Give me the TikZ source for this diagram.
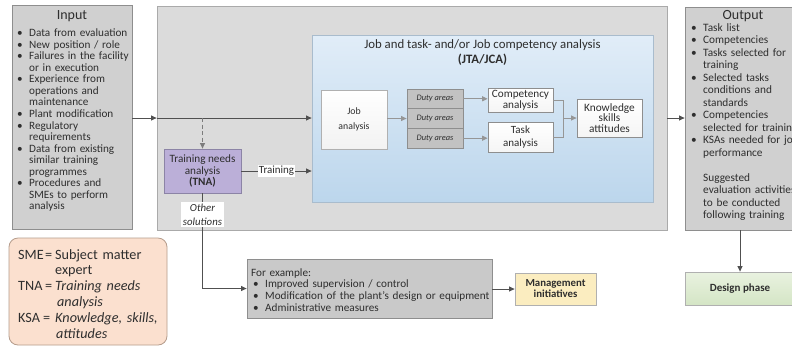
\documentclass[tikz,border=0pt]{standalone}
\usepackage{fontspec}
\setmainfont{Carlito}
\usetikzlibrary{arrows.meta,shadings}

\definecolor{txt}{HTML}{2E2E2E}
\definecolor{linec}{HTML}{505050}
\definecolor{boxgray}{HTML}{D0D0D0}
\definecolor{boxedge}{HTML}{8E8E8E}
\definecolor{maingray}{HTML}{DBDBDB}
\definecolor{bluetop}{HTML}{E1EDF8}
\definecolor{bluebot}{HTML}{BCD6EC}
\definecolor{blueedge}{HTML}{A9BCCD}
\definecolor{tnafill}{HTML}{BBAFD8}
\definecolor{tnaedge}{HTML}{8C84A6}
\definecolor{dutyfill}{HTML}{C2C2C2}
\definecolor{exfill}{HTML}{C9C9C9}
\definecolor{mgmtfill}{HTML}{FBEDC0}
\definecolor{legfill}{HTML}{FBE0CF}
\definecolor{legedge}{HTML}{B59C8C}
\definecolor{greentop}{HTML}{E9F2E0}
\definecolor{greenbot}{HTML}{D4E5C5}

% bulleted line, its continuation line, and a plain line
\newcommand{\bitem}[1]{\noindent\makebox[14pt][l]{\hspace{2pt}\textbullet}#1\par}
\newcommand{\bcont}[1]{\noindent\hspace*{14pt}#1\par}
\newcommand{\pline}[1]{\noindent #1\par}

\tikzset{
  box/.style={draw=boxedge, line width=0.8pt, inner sep=0pt, text=txt, align=center},
  conn/.style={draw=linec, line width=0.9pt, -{Triangle[length=5.5pt,width=5pt]}},
  plain/.style={draw=linec, line width=0.9pt},
  listtext/.style={inner sep=0pt, text=txt, align=left, text width=250pt, anchor=base west},
}

\begin{document}
\begin{tikzpicture}[x=1pt,y=-1pt]
\useasboundingbox (0,0) rectangle (792,349);
\fill[white] (0,0) rectangle (792,349);

% Input panel
\node[box, fill=boxgray, minimum width=120pt, minimum height=224pt] (input) at (72,117) {};
\node[text=txt, font=\fontsize{14}{16}\selectfont] (intitle) at (72,16.5) {Input};
\node[listtext, font=\fontsize{11.2}{11.53}\selectfont] (inlist) at (15,36.8) {%
\bitem{Data from evaluation}
\bitem{New position / role}
\bitem{Failures in the facility}
\bcont{or in execution}
\bitem{Experience from}
\bcont{operations and}
\bcont{maintenance}
\bitem{Plant modification}
\bitem{Regulatory}
\bcont{requirements}
\bitem{Data from existing}
\bcont{similar training}
\bcont{programmes}
\bitem{Procedures and}
\bcont{SMEs to perform}
\bcont{analysis}};

% Main analysis panel
\node[box, fill=maingray, draw=boxedge!75, minimum width=510pt, minimum height=224pt] (main) at (412,118) {};

% JTA/JCA panel
\node[box, draw=blueedge, top color=bluetop, bottom color=bluebot, minimum width=341pt, minimum height=167pt] (jta) at (482.5,118.5) {};
\node[text=txt, align=center, font=\fontsize{12.8}{15}\selectfont] (jtatitle) at (482.5,53) {Job and task- and/or Job competency analysis\\\textbf{(JTA/JCA)}};

\node[box, draw=boxedge!70, top color=white, bottom color=white!90!gray, minimum width=66pt, minimum height=59pt, font=\fontsize{9.8}{15}\selectfont] (job) at (354,119.5) {Job\\analysis};

\node[box, fill=dutyfill, minimum width=56pt, minimum height=19.7pt, font=\itshape\fontsize{8.4}{9}\selectfont] (duty1) at (435,98.8) {Duty areas};
\node[box, fill=dutyfill, minimum width=56pt, minimum height=19.7pt, font=\itshape\fontsize{8.4}{9}\selectfont] (duty2) at (435,118.5) {Duty areas};
\node[box, fill=dutyfill, minimum width=56pt, minimum height=19.7pt, font=\itshape\fontsize{8.4}{9}\selectfont] (duty3) at (435,138.2) {Duty areas};

\node[box, top color=white, bottom color=white!92!gray, minimum width=65pt, minimum height=24pt, font=\fontsize{11.2}{11}\selectfont] (comp) at (520.5,100) {Competency\\analysis};
\node[box, top color=white, bottom color=white!92!gray, minimum width=65pt, minimum height=30pt, font=\fontsize{11}{13}\selectfont] (task) at (520.5,137) {Task\\analysis};
\node[box, top color=white, bottom color=white!92!gray, minimum width=65pt, minimum height=38pt, font=\fontsize{11.3}{10.5}\selectfont] (ksa) at (609.5,118) {Knowledge\\skills\\attitudes};

% TNA
\node[box, fill=tnafill, draw=tnaedge, minimum width=77pt, minimum height=44pt, font=\fontsize{11.2}{11.5}\selectfont] (tna) at (202.5,171) {Training needs\\analysis\\\textbf{(TNA)}};

% Other solutions
\node[box, fill=exfill, minimum width=245pt, minimum height=59pt] (example) at (369.5,288.5) {};
\node[listtext, font=\fontsize{11.2}{11.7}\selectfont] (exlist) at (251,276) {%
\pline{For example:}
\bitem{Improved supervision / control}
\bitem{Modification of the plant's design or equipment}
\bitem{Administrative measures}};
\node[box, fill=mgmtfill, draw=boxedge!70, minimum width=81pt, minimum height=32pt, font=\bfseries\fontsize{10.8}{11}\selectfont] (mgmt) at (555.5,289) {Management\\initiatives};

% Output panel
\node[box, fill=boxgray, minimum width=115pt, minimum height=223pt] (output) at (742.5,118.5) {};
\node[text=txt, font=\fontsize{14}{16}\selectfont] (outtitle) at (743,16) {Output};
\node[listtext, font=\fontsize{11.3}{12.47}\selectfont] (outlist) at (689,31.3) {%
\bitem{Task list}
\bitem{Competencies}
\bitem{Tasks selected for}
\bcont{training}
\bitem{Selected tasks}
\bcont{conditions and}
\bcont{standards}
\bitem{Competencies}
\bcont{selected for training}
\bitem{KSAs needed for job}
\bcont{performance}};
\node[listtext, font=\fontsize{11.3}{12.47}\selectfont] (suggest) at (703,181.3) {%
\pline{Suggested}
\pline{evaluation activities}
\pline{to be conducted}
\pline{following training}};

\node[box, top color=greentop, bottom color=greenbot, draw=boxedge!70, minimum width=110pt, minimum height=33pt, font=\bfseries\fontsize{11}{12}\selectfont] (design) at (740,288.5) {Design phase};

% Legend of abbreviations
\node[draw=legedge, fill=legfill, rounded corners=9pt, line width=0.8pt, minimum width=158pt, minimum height=107pt, inner sep=0pt] (legend) at (88,291.5) {};
\node[listtext, font=\fontsize{14.2}{15.8}\selectfont] (legtext) at (18,259) {%
\pline{\makebox[27pt][l]{SME}\makebox[10pt][l]{=}Subject matter}
\bcont{\hspace*{23pt}expert}
\pline{\makebox[27pt][l]{TNA}\makebox[10pt][l]{=}\textit{Training needs}}
\bcont{\hspace*{25pt}\textit{analysis}}
\pline{\makebox[25pt][l]{KSA}\makebox[12pt][l]{=}\textit{Knowledge, skills,}}
\bcont{\hspace*{24pt}\textit{attitudes}}};

% Connectors
\coordinate (inlet) at (main.west |- 0,118);
\draw[conn] (input.east |- inlet) -- (inlet);
\draw[conn] (inlet) -- (jta.west |- inlet);
\draw[conn, dash pattern=on 4pt off 2.5pt, draw=linec!75] (tna.north |- inlet) -- (tna.north);
\draw[conn] (tna.east) -- node[fill=white, inner sep=1pt, text=txt, font=\fontsize{11}{12}\selectfont] (trainlbl) {Training} (tna.east -| jta.west);
\draw[conn, draw=linec!60] (job.east |- duty2) -- (duty2.west);
\draw[conn, draw=linec!60] (duty1.east) -- (comp.west |- duty1);
\draw[conn, draw=linec!60] (duty3.east) -- (task.west |- duty3);
\coordinate (join) at (563,118);
\draw[plain, draw=linec!60] (comp.east) -- (join |- comp.east) -- (join |- task.east) -- (task.east);
\draw[conn, draw=linec!60] (join) -- (ksa.west |- join);
\draw[plain] (tna.south) -- (tna.south |- example.west);
\draw[conn] (tna.south |- example.west) -- (example.west);
\node[fill=white, inner sep=1.5pt, text=txt, align=center, font=\itshape\fontsize{10.8}{14}\selectfont] (otherlbl) at (202.5,214.5) {Other\\solutions};
\draw[conn] (example.east |- mgmt) -- (mgmt.west);
\draw[conn] (main.east |- inlet) -- (output.west |- inlet);
\draw[conn] (design.north |- output.south) -- (design.north);
\end{tikzpicture}
\end{document}
